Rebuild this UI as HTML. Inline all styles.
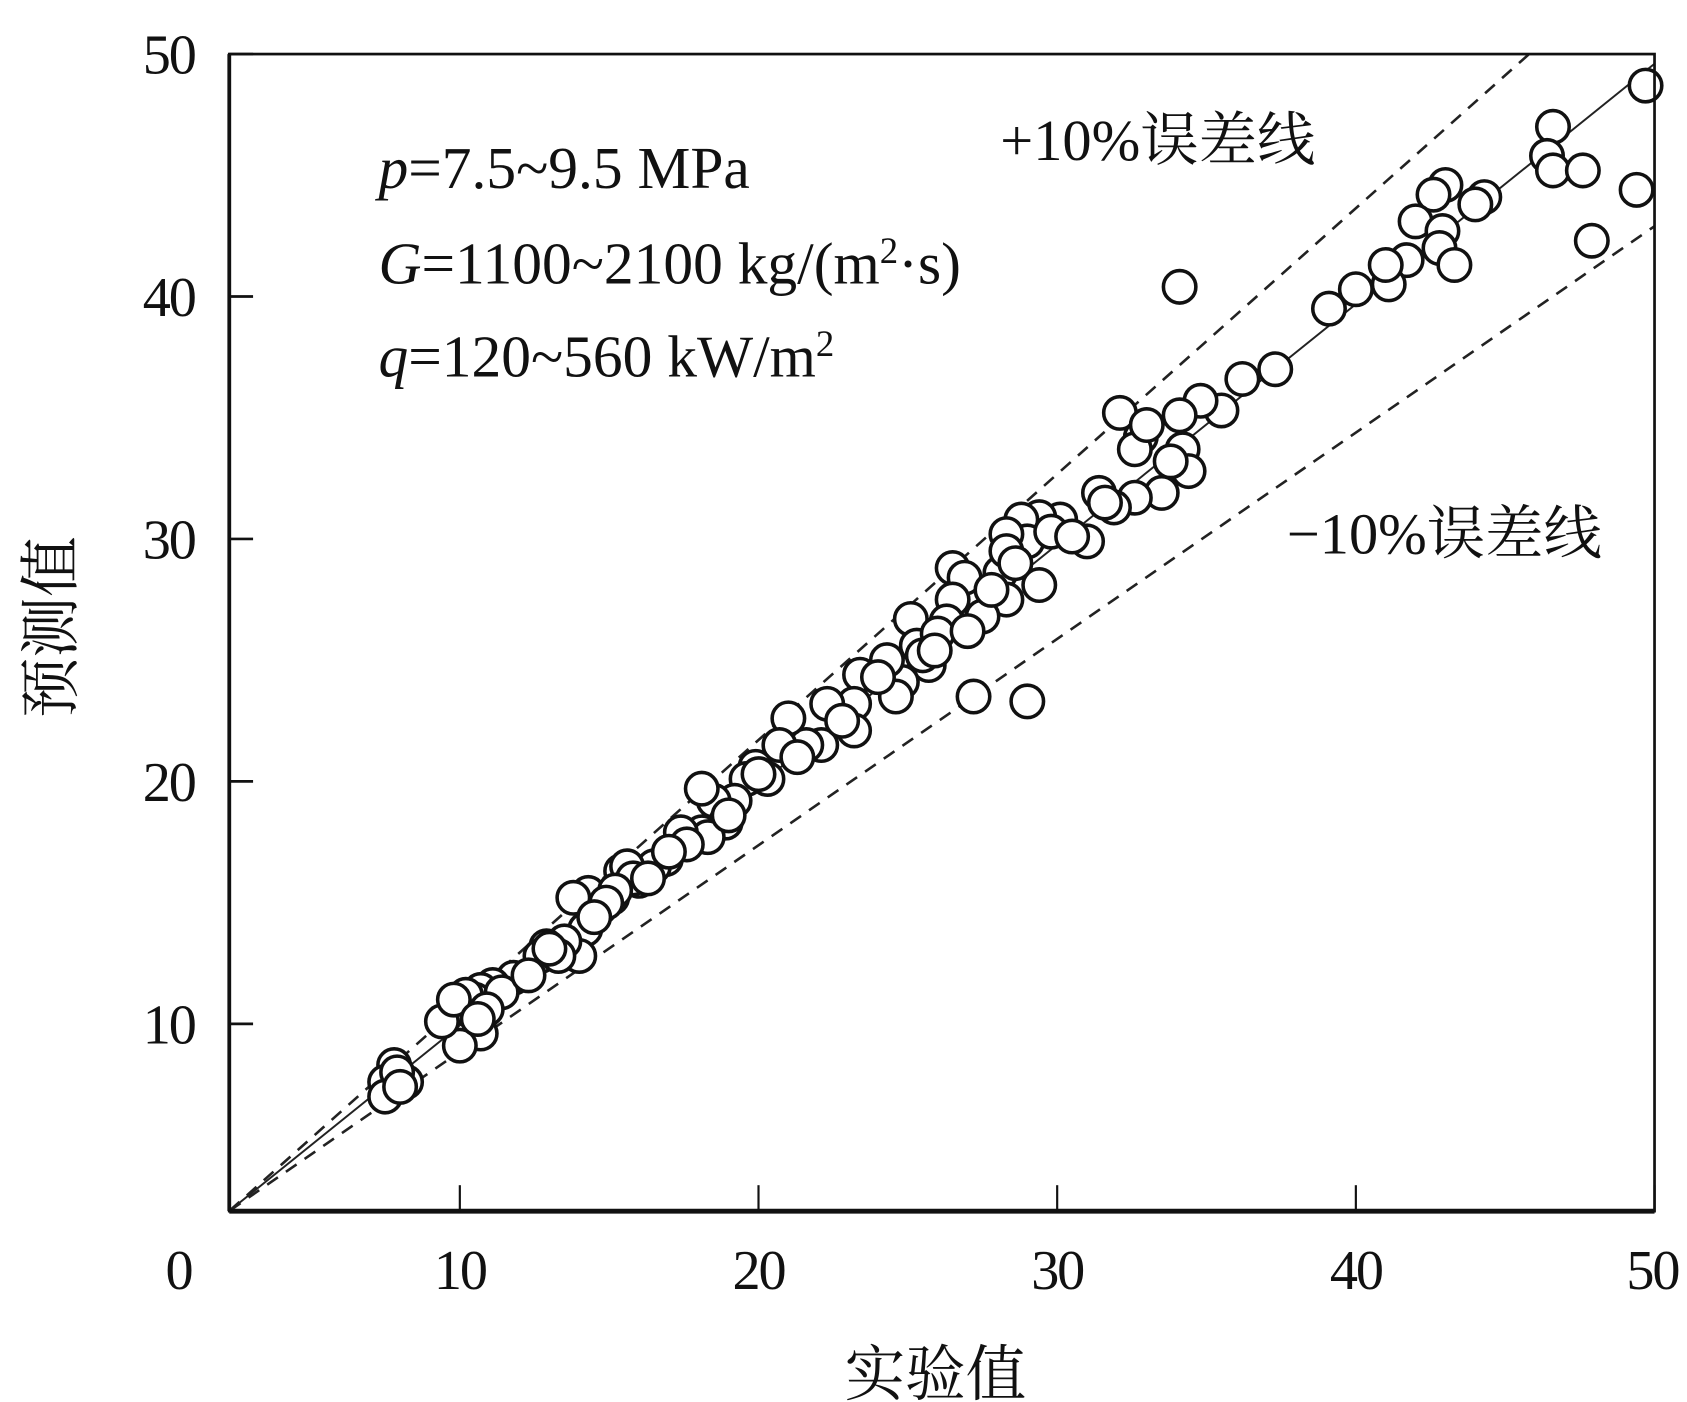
<!DOCTYPE html>
<html><head><meta charset="utf-8"><style>
html,body{margin:0;padding:0;background:#fff;}
svg{display:block;}
text{font-family:"Liberation Serif","Noto Serif CJK SC",serif;fill:#111;}
</style></head><body>
<svg id="chart" width="1687" height="1402" viewBox="0 0 1560 1296.5" xmlns="http://www.w3.org/2000/svg">
<g id="marks"></g>
<g id="axes"></g>
</svg>
<script>
const xTicks=[10,20,30,40,50];
const yTicks=[10,20,30,40,50];
const xLabels=["0","10","20","30","40","50"];
const yLabels=["10","20","30","40","50"];
const pointsX=[49.7,46.6,46.4,46.6,47.6,49.4,47.9,44.3,44.0,43.0,42.6,42.0,42.9,42.8,43.3,41.7,41.1,41.0,40.0,39.1,34.1,37.3,36.2,35.5,34.8,32.1,34.1,32.8,32.6,34.2,34.4,33.5,32.6,31.9,31.4,31.0,30.1,29.4,28.8,29.0,29.4,28.3,28.1,28.3,27.2,29.0,26.5,26.9,26.5,27.5,26.3,25.1,25.3,25.7,24.8,24.6,24.3,23.4,23.2,22.3,23.2,22.1,21.6,21.0,20.7,19.9,20.3,19.6,19.2,18.5,18.1,18.9,18.1,18.3,17.4,17.6,16.9,16.5,16.0,15.4,15.6,15.1,14.7,14.3,13.8,14.2,14.0,13.5,12.9,12.7,13.3,11.8,11.1,10.7,10.5,10.4,10.2,10.7,10.0,9.4,9.8,7.8,7.5,7.5,8.2,28.3,33.0,29.8,30.5,28.6,27.8,26.0,25.5,24.0,21.3,20.0,19.0,17.0,15.8,15.2,14.9,14.5,13.0,11.4,10.9,10.6,7.9,8.0,31.6,33.8,27.0,25.9,22.8,16.3,12.3];
const pointsY=[48.7,47.0,45.8,45.2,45.2,44.4,42.3,44.1,43.8,44.6,44.2,43.1,42.7,42.0,41.3,41.5,40.5,41.3,40.3,39.5,40.4,37.0,36.6,35.3,35.7,35.2,35.1,34.2,33.7,33.7,32.8,31.9,31.7,31.3,31.9,29.9,30.8,30.9,30.8,29.9,28.1,30.2,28.6,27.5,23.5,23.3,28.8,28.4,27.5,26.8,26.6,26.7,25.6,24.8,24.1,23.5,25.0,24.4,23.2,23.2,22.1,21.5,21.5,22.6,21.5,20.6,20.1,20.1,19.2,19.2,19.7,18.3,17.9,17.7,17.9,17.4,16.8,16.5,15.9,16.3,16.5,15.2,14.8,15.4,15.2,13.9,12.8,13.4,13.2,12.8,12.8,11.9,11.6,11.4,11.0,10.5,11.2,9.6,9.1,10.1,11.0,8.3,7.6,7.0,7.6,29.5,34.7,30.3,30.1,29.0,27.9,26.1,25.2,24.3,21.0,20.3,18.6,17.1,16.0,15.5,15.0,14.4,13.1,11.3,10.6,10.2,8.0,7.4,31.5,33.2,26.2,25.4,22.5,16.0,12.0];
const lineStartX=[2.3,2.3,2.3];
const lineStartY=[2.3,2.3,2.3];
const lineEndX=[45.8,50,50];
const lineEndY=[50,49.6,42.9];
const lineNames=["plus-10-percent-line","ideal-line","minus-10-percent-line"];
const lineDashed=[true,false,true];

const X0=212,X1=1530,Y0=1120,Y1=50;
function sx(v){return 149+v*(1530-149)/50;}
function sy(v){return 1171-v*(1171-50)/50;}
const NS="http://www.w3.org/2000/svg";
const marks=document.getElementById('marks'), axes=document.getElementById('axes');
function mk(tag,attrs,parent){const e=document.createElementNS(NS,tag);for(const k in attrs)e.setAttribute(k,attrs[k]);parent.appendChild(e);return e;}

for(let i=0;i<lineNames.length;i++){
  const l=mk('line',{x1:sx(lineStartX[i]),y1:sy(lineStartY[i]),x2:sx(lineEndX[i]),y2:sy(lineEndY[i]),stroke:'#222','stroke-width':lineDashed[i]?2.4:1.8,'stroke-dasharray':lineDashed[i]?'12 9':'none'},marks);
  
  
}
for(let i=0;i<pointsX.length;i++){
  const c=mk('circle',{cx:sx(pointsX[i]),cy:sy(pointsY[i]),r:15,fill:'#fff',stroke:'#111','stroke-width':3.3},marks);
  
  
}
let f=mk('rect',{x:X0,y:Y1,width:X1-X0,height:Y0-Y1,fill:'none',stroke:'#111','stroke-width':2.5},axes);


let bx=mk('line',{x1:X0,y1:Y0,x2:X1,y2:Y0,stroke:'#111','stroke-width':4.5},axes);


let lx=mk('line',{x1:X0,y1:Y0,x2:X0,y2:Y1,stroke:'#111','stroke-width':3.5},axes);


xTicks.forEach(v=>{
  const t=mk('line',{x1:sx(v),y1:Y0,x2:sx(v),y2:Y0-24,stroke:'#111','stroke-width':2},axes);
  
  
});
yTicks.forEach(v=>{
  const t=mk('line',{x1:X0,y1:sy(v),x2:X0+22,y2:sy(v),stroke:'#111','stroke-width':2.5},axes);
  
  
});
const xlabPos=[165,sx(10),sx(20),sx(30),sx(40),1528];
xLabels.forEach((s,i)=>{
  const t=mk('text',{x:xlabPos[i],y:1192,'text-anchor':'middle','font-size':52,style:'letter-spacing:-2px'},axes);
  t.textContent=s;
  
  
});
yLabels.forEach((s,i)=>{
  const t=mk('text',{x:180,y:sy(yTicks[i])+18,'text-anchor':'end','font-size':52,style:'letter-spacing:-2px'},axes);
  t.textContent=s;
  
  
});
</script>
<svg style="position:absolute;left:0;top:0" width="1687" height="1402" viewBox="0 0 1560 1296.5">
<text x="865" y="1290" text-anchor="middle" font-size="56">实验值</text>
<text transform="translate(66,580) rotate(-90)" text-anchor="middle" font-size="56">预测值</text>
<text x="350" y="174" font-size="55"><tspan font-style="italic">p</tspan>=7.5~9.5 MPa</text>
<text x="350" y="262" font-size="55"><tspan font-style="italic">G</tspan>=1100~2100 kg/(m<tspan font-size="34" dy="-19">2</tspan><tspan dy="19">·s)</tspan></text>
<text x="350" y="348" font-size="55"><tspan font-style="italic">q</tspan>=120~560 kW/m<tspan font-size="34" dy="-19">2</tspan></text>
<text x="925" y="148" font-size="54">+10%误差线</text>
<text x="1190" y="512" font-size="54">−10%误差线</text>
</svg>
</body></html>
